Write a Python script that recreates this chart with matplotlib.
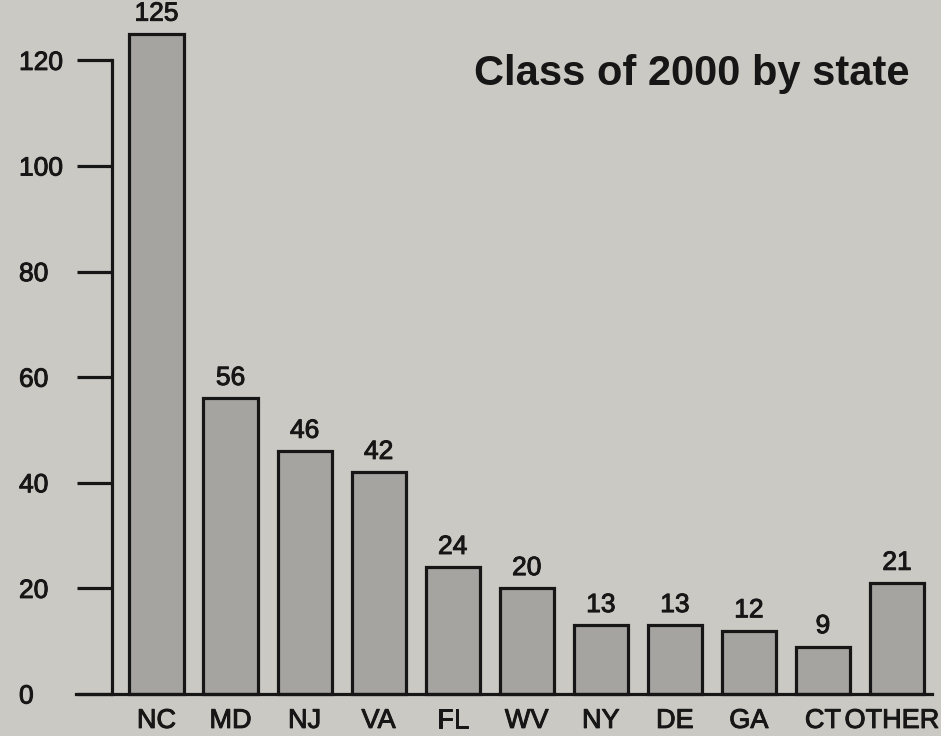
import matplotlib.pyplot as plt
import matplotlib.patheffects as pe
import matplotlib.transforms as mtransforms

states = ["NC", "MD", "NJ", "VA", "FL", "WV", "NY", "DE", "GA", "CT", "OTHER"]
students = [125, 56, 46, 42, 24, 20, 13, 13, 12, 9, 21]
y_ticks = [0, 20, 40, 60, 80, 100, 120]

PAPER = "#cbc9c3"
BAR = "#a6a4a0"
INK = "#161616"

plt.rcParams["font.family"] = ["Liberation Sans", "DejaVu Sans"]
# scanned newsprint: ink spreads a little, so thicken the glyphs
ink = [pe.withStroke(linewidth=0.7, foreground=INK)]

fig = plt.figure(figsize=(9.41, 7.36), dpi=100, facecolor=PAPER)
ax = fig.add_axes([0, 0, 1, 1], facecolor=PAPER)

x = list(range(len(states)))
bars = ax.bar(x, students, width=0.73, color=BAR, edgecolor=INK, linewidth=2.3, zorder=3)
value_labels = ax.bar_label(bars, labels=[str(v) for v in students], padding=6,
                            fontsize=19, color=INK)
for t in value_labels:
    t.set_path_effects(ink)

# map data to the picture: bar pitch ~74 px, ~5.28 px per student
ax.set_xlim(-2.113, 10.594)
ax.set_ylim(-7.95, 131.44)

for side in ["top", "right"]:
    ax.spines[side].set_visible(False)
ax.spines["left"].set_position(("data", -0.6))
ax.spines["left"].set_bounds(0, 120)
ax.spines["bottom"].set_position(("data", 0))
ax.spines["bottom"].set_bounds(-1.09, 10.47)
for side in ["left", "bottom"]:
    ax.spines[side].set_linewidth(2.3)
    ax.spines[side].set_color(INK)
    ax.spines[side].set_zorder(4)

ax.set_yticks(y_ticks)
ax.set_yticklabels([str(t) for t in y_ticks])
ax.tick_params(axis="y", direction="out", length=25, width=2.3, color=INK,
               labelsize=19, labelcolor=INK, pad=42)
for lab in ax.get_yticklabels():
    lab.set_horizontalalignment("left")
    lab.set_path_effects(ink)

ax.set_xticks(x)
ax.set_xticklabels(states)
ax.tick_params(axis="x", length=0, labelsize=19.5, labelcolor=INK, pad=10)
for lab in ax.get_xticklabels():
    lab.set_path_effects(ink)
# last label sits against the right edge, nudge it in a little
last = ax.get_xticklabels()[-1]
last.set_transform(last.get_transform() +
                   mtransforms.ScaledTranslation(-5 / 100, 0, fig.dpi_scale_trans))

fig.text(0.735, 0.8845, "Class of 2000 by state", ha="center", va="baseline",
         fontsize=30, fontweight="bold", color=INK)

plt.savefig("out.png", dpi=100, facecolor=PAPER)
